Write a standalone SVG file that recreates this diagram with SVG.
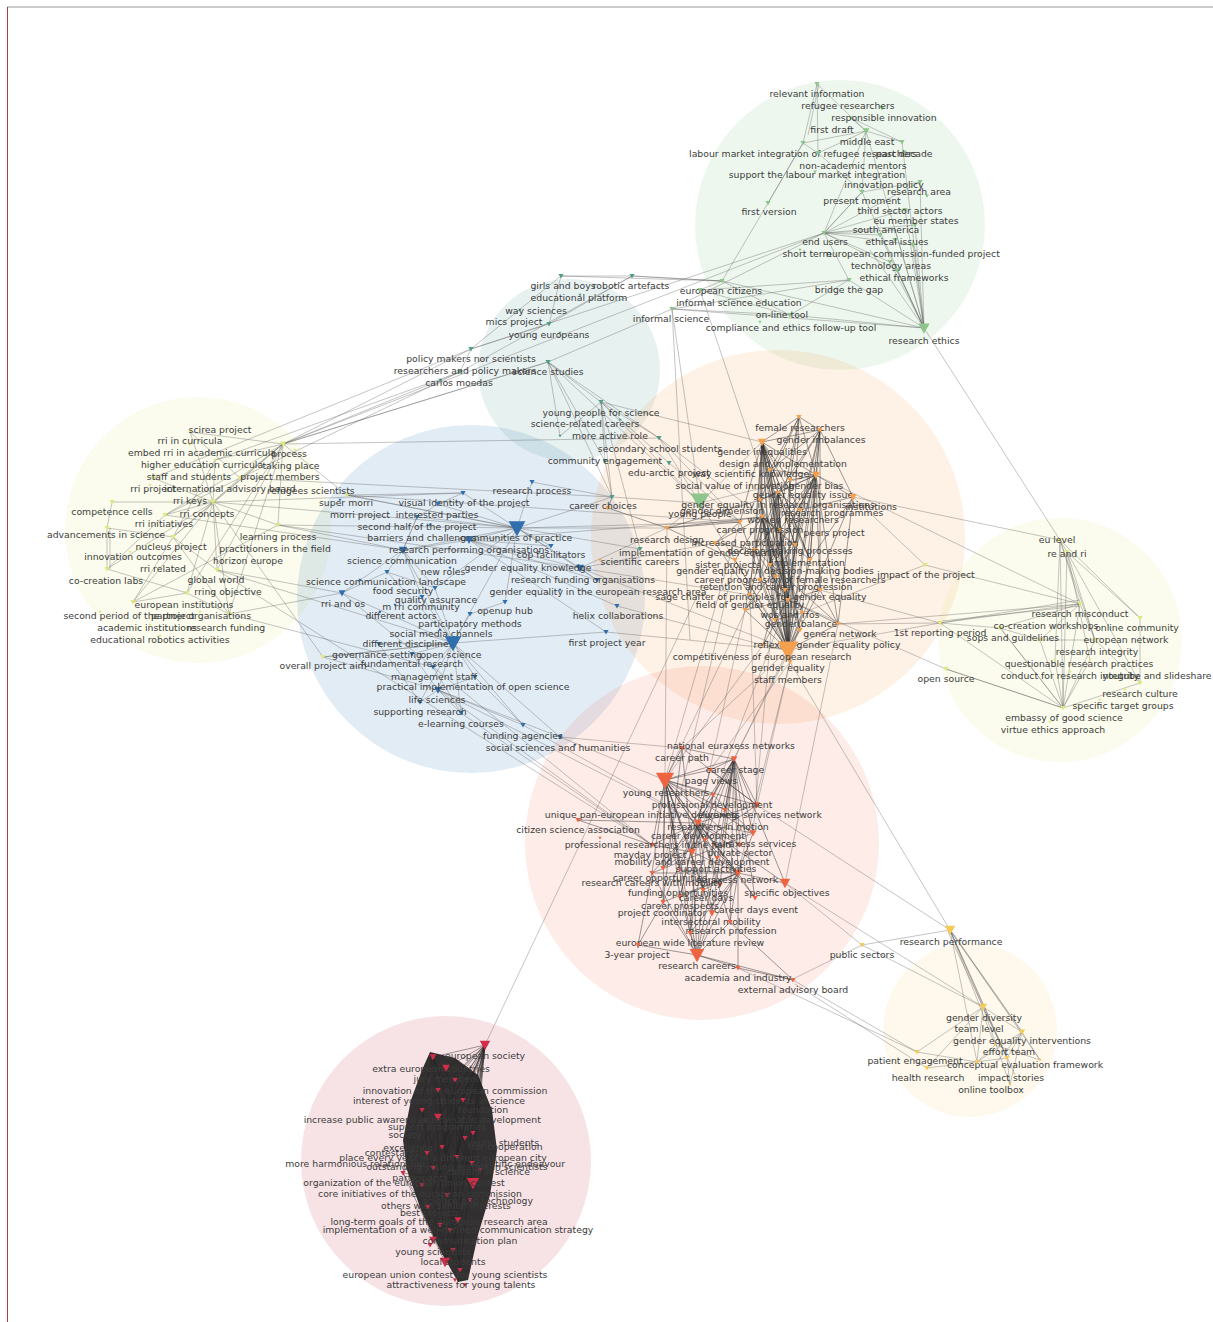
<svg xmlns="http://www.w3.org/2000/svg" xmlns:xlink="http://www.w3.org/1999/xlink" width="1213" height="1322" viewBox="0 0 1213 1322">
<style>
text{font-family:"DejaVu Sans","Liberation Sans",sans-serif;font-size:9.3px;fill:#3c3c3c;text-anchor:middle}
.g{fill:#8cc68c}.tl{fill:#4f9e89}.b{fill:#2f6fae}.o{fill:#f5a04e}.r{fill:#ee6340}.y{fill:#e2e67e}.yb{fill:#f2cb58}.c{fill:#cf2d48}
.e{fill:none;stroke:#555;stroke-opacity:.38;stroke-width:.9}
.ed{fill:none;stroke:#2d2d2d;stroke-opacity:.55;stroke-width:.85}
.ek{fill:none;stroke:#222;stroke-opacity:.55;stroke-width:.8}
</style>
<defs><path id="v" d="M-2.6,-2.1 L2.6,-2.1 L0,2.6 Z"/></defs>
<rect x="0" y="0" width="1213" height="1322" fill="#fff"/>
<line x1="7" y1="7" x2="1213" y2="7" stroke="#9a9a9a" stroke-width="1"/>
<line x1="7.5" y1="7" x2="7.5" y2="1322" stroke="#a34545" stroke-width="1"/>
<g id="communities">
<circle cx="840" cy="225" r="145" fill="#8dc78d" fill-opacity=".15"/>
<circle cx="569" cy="370" r="91" fill="#6aa9a0" fill-opacity=".16"/>
<circle cx="198" cy="530" r="133" fill="#e8ea90" fill-opacity=".16"/>
<circle cx="471" cy="599" r="174" fill="#3f7fbf" fill-opacity=".15"/>
<circle cx="778" cy="537" r="187" fill="#f5a04e" fill-opacity=".15"/>
<circle cx="1060" cy="640" r="122" fill="#e8ea90" fill-opacity=".16"/>
<circle cx="702" cy="843" r="177" fill="#ef6a4a" fill-opacity=".13"/>
<circle cx="970" cy="1030" r="87" fill="#f4d26a" fill-opacity=".13"/>
<circle cx="446" cy="1161" r="145" fill="#c93a4f" fill-opacity=".14"/>
</g>
<g id="connectors">
<path class="e" d="M924,328L895,230M924,328L913,245M924,328L890,262M924,328L897,270M924,328L905,210M924,328L920,182M924,328L862,192M924,328L849,280M924,328L790,315M924,328L722,281M924,328L866,131M924,328L902,142M924,328L1060,540M924,328L672,309M924,328L880,235M924,328L870,250M924,328L915,225M824,233L895,230M824,233L913,245M824,233L905,210M824,233L890,262M824,233L862,192M824,233L920,182M824,233L897,270M824,233L672,309M824,233L880,235M824,233L915,225M866,131L817,84M866,131L803,143M866,131L818,153M866,131L851,118M866,131L902,142M866,131L862,192M866,131L824,233M817,84L803,143M817,84L818,153M819,84L808,135M803,143L818,153M803,143L768,203M818,153L862,192M851,118L902,142M862,192L920,182M862,192L824,233M768,203L722,281M768,203L803,143M722,281L700,290M722,281L790,315M722,281L632,276M722,281L561,276M790,315L849,280M790,315L672,309M790,315L700,290M849,280L700,290M849,280L672,309M849,280L824,233M672,309L700,503M700,290L760,470M672,309L690,640M700,503L659,438M700,503L601,402M700,503L548,362M700,503L740,522M700,503L762,442M700,503L790,650M700,503L816,475M700,503L667,528M700,503L612,497"/>
<path class="e" d="M561,276L632,276M561,276L549,324M632,276L722,281M549,324L471,349M549,324L632,276M471,349L460,372M471,349L283,444M460,372L283,444M460,372L215,460M548,362L601,402M548,362L659,438M548,362L612,497M548,362L283,444M601,402L659,438M601,402L605,461M601,402L612,497M601,402L669,463M601,402L762,442M659,438L740,522M659,438L762,517M548,362L672,309M471,349L824,233M460,372L632,276M548,362L605,461M601,402L560,436M548,362L560,436M605,461L612,497M669,463L740,522M471,349L561,276M460,372L240,478M471,349L153,478M640,549L601,402M640,549L517,528"/>
<path class="e" d="M283,444L240,478M283,444L213,502M283,444L165,515M283,444L173,537M283,444L278,525M283,444L217,570M283,444L187,593M283,444L229,614M283,444L347,495M283,444L548,362M283,444L824,233M283,444L215,460M283,444L190,432M213,502L240,478M213,502L153,478M213,502L112,502M213,502L165,515M213,502L173,537M213,502L107,569M213,502L187,593M213,502L229,614M213,502L217,570M213,502L133,602M213,502L278,525M213,502L463,493M213,502L190,432M213,502L215,460M107,528L107,569M110,528L110,569M173,537L107,528M173,537L133,602M173,537L229,614M187,593L229,614M187,593L133,602M278,525L403,550M278,525L517,528M217,570L342,593M217,570L453,643M229,614L433,667M323,657L213,502M323,657L453,643M323,657L438,690M347,495L463,493M347,495L517,528M133,602L278,525M283,444L659,438M240,478L612,497M347,495L740,522M165,515L107,569M190,432L240,478M240,478L165,515M215,460L173,537M173,537L217,570M107,528L112,502M229,614L342,593M107,569L187,593M278,525L580,568M165,515L403,550M213,502L517,528M217,570L652,845"/>
<path class="e" d="M517,528L463,493M517,528L532,482M517,528L438,504M517,528L417,517M517,528L469,540M517,528L551,546M517,528L403,550M517,528L580,568M517,528L597,580M517,528L505,602M517,528L435,588M517,528L740,522M517,528L667,528M517,528L612,497M517,528L347,495M453,643L379,644M453,643L412,654M453,643L433,667M453,643L475,677M453,643L438,690M453,643L420,702M453,643L461,713M453,643L523,725M453,643L560,737M453,643L470,614M453,643L422,597M453,643L435,588M453,643L387,572M453,643L342,593M453,643L403,550M453,643L517,528M453,643L323,657M453,643L606,632M403,550L387,572M403,550L435,588M403,550L422,597M403,550L469,540M403,550L342,593M403,550L417,517M469,540L580,568M469,540L551,546M469,540L597,580M469,540L762,517M580,568L597,580M580,568L667,528M580,568L715,543M580,568L750,595M580,568L790,650M438,690L461,713M438,690L523,725M438,690L560,737M438,690L420,702M438,690L652,845M438,690L698,823M342,593L387,572M342,593L652,845M560,737L665,780M560,737L682,748M523,725L698,823M461,713L652,845M606,632L469,540M606,632L790,650M617,606L469,540M617,606L763,645M463,493L438,504M438,504L417,517M532,482L612,497M417,517L403,550M475,677L523,725M475,677L438,690M505,602L470,614M387,572L435,588M412,654L438,690M379,644L420,702M433,667L461,713"/>
<path class="ed" d="M788,650L762,442M788,650L799,417M788,650L820,430M788,650L816,475M788,650L853,497M788,650L778,493M788,650L740,522M788,650L762,517M788,650L715,543M788,650L735,560M788,650L776,577M788,650L750,595M788,650L788,600M788,650L802,613M788,650L838,624M788,650L763,645M788,650L790,662M788,650L770,470M788,650L790,480M788,650L760,500M788,650L800,510M788,650L780,530M788,650L755,550M788,650L795,545M788,650L770,565M788,650L810,560M788,650L760,580M788,650L785,590M788,650L800,630M788,650L775,620M788,650L745,610M788,650L820,590M762,442L799,417M762,442L820,430M762,442L816,475M762,442L778,493M762,442L740,522M762,442L762,517M762,442L770,470M762,442L790,480M762,442L760,500M762,442L800,510M762,442L780,530M762,442L755,550M762,442L795,545M762,442L770,565M762,442L810,560M762,442L760,580M762,442L785,590M762,442L800,630M762,442L775,620M762,442L788,600M762,442L750,595M816,475L799,417M816,475L820,430M816,475L853,497M816,475L778,493M816,475L770,470M816,475L790,480M816,475L760,500M816,475L800,510M816,475L780,530M816,475L755,550M816,475L795,545M816,475L770,565M816,475L810,560M816,475L760,580M816,475L785,590M816,475L820,590M816,475L802,613M816,475L838,624M820,430L799,417M820,430L770,470M820,430L790,480M820,430L778,493M820,430L800,510M820,430L795,545M820,430L810,560M820,430L820,590M820,430L853,497M762,517L780,530M762,517L755,550M762,517L795,545M762,517L770,565M762,517L810,560M762,517L760,580M762,517L785,590M762,517L800,630M762,517L775,620M762,517L745,610M762,517L715,543M762,517L735,560M762,517L776,577M788,600L770,470M788,600L790,480M788,600L760,500M788,600L800,510M788,600L780,530M788,600L755,550M788,600L795,545M788,600L770,565M788,600L760,580M788,600L785,590M788,600L775,620M788,600L745,610M788,600L820,590M788,600L838,624M788,600L763,645M788,600L790,662M778,493L790,480M778,493L760,500M778,493L800,510M778,493L780,530M778,493L755,550M778,493L795,545M778,493L770,565M778,493L810,560M778,493L760,580M778,493L785,590M778,493L776,577M778,493L750,595M715,543L740,522M715,543L755,550M667,528L740,522M667,528L760,500M608,508L667,528M608,508L612,497M667,528L762,517M667,528L735,560M799,417L770,470M799,417L790,480M799,417L760,500M853,497L800,510M853,497L810,560M853,497L838,624M802,613L775,620M838,624L820,590M770,470L800,630M790,480L775,620M760,500L802,613M800,510L763,645M780,530L790,662M755,550L838,624M795,545L745,610M770,565L799,417M810,560L762,442"/>
<path class="e" d="M790,662L950,930M853,497L1060,540M838,624L1080,604M802,613L925,565M925,565L1080,604M940,623L1080,604M940,623L788,650M940,623L1000,628M940,623L1063,708M788,600L946,669M946,669L1063,708M853,497L925,565M820,590L940,623M838,624L940,623M816,475L1080,604M788,650L682,748M788,650L734,759M763,645L665,780M790,662L710,770M750,595L757,805M788,600L692,852M802,613L738,873M776,577L753,833M735,560L663,868M838,624L785,883M745,610L698,823M760,580L665,780M790,662L757,805M800,630L734,759M740,522L665,780M667,528L665,780M485,1045L700,590"/>
<path class="ed" d="M665,780L682,748M665,780L734,759M665,780L710,770M665,780L713,795M665,780L757,805M665,780L698,823M665,780L753,833M665,780L692,852M665,780L652,845M665,780L717,858M665,780L652,873M665,780L663,868M665,780L738,873M665,780L703,890M665,780L680,897M665,780L663,902M665,780L712,913M665,780L690,933M665,780L697,955M665,780L725,810M665,780L740,845M665,780L705,840M665,780L680,870M734,759L682,748M734,759L710,770M734,759L713,795M734,759L757,805M734,759L698,823M734,759L753,833M734,759L692,852M734,759L717,858M734,759L663,868M734,759L738,873M734,759L785,883M734,759L703,890M734,759L755,898M734,759L712,913M734,759L730,922M734,759L725,810M734,759L740,845M734,759L705,840M734,759L720,885M698,823L713,795M698,823L757,805M698,823L753,833M698,823L692,852M698,823L652,845M698,823L717,858M698,823L652,873M698,823L663,868M698,823L738,873M698,823L785,883M698,823L703,890M698,823L680,897M698,823L663,902M698,823L755,898M698,823L712,913M698,823L730,922M698,823L690,933M698,823L740,845M698,823L680,870M698,823L720,885M738,873L753,833M738,873L692,852M738,873L717,858M738,873L652,873M738,873L785,883M738,873L703,890M738,873L680,897M738,873L663,902M738,873L755,898M738,873L712,913M738,873L730,922M738,873L690,933M738,873L697,955M738,873L738,968M738,873L705,840M738,873L680,870M697,955L663,902M697,955L712,913M697,955L730,922M697,955L690,933M697,955L638,945M697,955L738,968M697,955L793,980M697,955L703,890M697,955L680,897M697,955L692,852M697,955L717,858M697,955L652,873M578,820L652,845M578,820L698,823M682,748L757,805M682,748L692,852M793,980L738,968M793,980L730,922M638,945L652,873M638,945L663,902M652,845L692,852M710,770L757,805M713,795L753,833M682,748L663,902M710,770L680,897M713,795L690,933M757,805L663,868M753,833L652,873"/>
<path class="e" d="M793,980L917,1052M795,984L927,1068M795,978L862,945M862,945L950,930M757,805L950,930M785,883L862,945M738,968L917,1052M785,883L983,1007M862,945L983,1007"/>
<path class="e" d="M950,930L983,1007M950,930L1022,1032M950,930L1007,1058M950,930L977,1062M950,930L1040,1060M950,930L995,1045M950,930L1015,1075M983,1007L1022,1032M983,1007L1007,1058M983,1007L977,1062M983,1007L917,1052M983,1007L927,1068M983,1007L1010,1085M1022,1032L1007,1058M1022,1032L977,1062M1022,1032L1010,1085M1022,1032L990,1070M1022,1032L1040,1060M917,1052L977,1062M927,1068L1007,1058M1007,1058L1010,1085M995,1045L1040,1060M995,1045L977,1062M952,932L1022,1032M948,932L1007,1058"/>
<path class="e" d="M1060,540L1067,552M1060,540L1080,604M1060,540L1095,640M1060,540L1140,618M1060,540L1063,708M1060,540L1055,660M1067,552L1095,640M1067,552L1140,618M1067,552L1063,708M1067,552L1140,683M1067,552L1090,660M1080,604L1000,628M1080,604L1040,640M1080,604L1063,708M1080,604L1095,640M1063,708L1000,628M1063,708L1040,640M1063,708L1095,640M1063,708L946,669M1063,708L1140,683M1140,683L1140,618M1140,683L1095,640M940,623L1080,600M942,621L1080,606M1040,640L1095,640M1055,660L1063,708M1090,660L1063,708M1000,628L1040,640M1002,630L1063,708"/>
<polygon points="430,1052 455,1058 478,1075 492,1110 497,1150 490,1195 478,1235 468,1280 458,1282 440,1250 421,1210 407,1170 403,1140 411,1100 422,1070" fill="#161616" fill-opacity=".88"/>
<path class="ek" d="M485,1045L433,1057M485,1045L446,1068M485,1045L455,1080M485,1045L438,1090M485,1045L463,1100M485,1045L422,1110M485,1045L438,1117M485,1045L473,1133M485,1045L465,1138M485,1045L442,1147M485,1045L427,1153M485,1045L457,1157M485,1045L433,1168M485,1045L472,1163M485,1045L403,1173M485,1045L422,1185M485,1045L473,1183M485,1045L447,1195M485,1045L428,1207M485,1045L458,1220M485,1045L433,1240M485,1045L453,1250M485,1045L445,1262M485,1045L460,1270M433,1057L460,1270M433,1057L445,1262M446,1068L453,1250M455,1080L433,1240M438,1090L458,1220M463,1100L428,1207M422,1110L447,1195M438,1117L473,1183M403,1173L460,1270M403,1173L433,1057M403,1173L473,1183M403,1173L445,1262M473,1183L433,1057M473,1183L446,1068M473,1183L445,1262M433,1057L473,1133M433,1057L472,1163M445,1262L463,1100M460,1270L438,1090M460,1270L455,1080M445,1262L422,1110"/>
</g>
<g id="n-g1" class="g"><use href="#v" x="817" y="84"/><text x="817" y="97">relevant information</text></g>
<g id="n-g2" class="g"><use href="#v" x="882" y="108"/><text x="848" y="109">refugee researchers</text></g>
<g id="n-g3" class="g"><use href="#v" transform="translate(851,118) scale(.8)"/><text x="884" y="121">responsible innovation</text></g>
<g id="n-g4" class="g"><use href="#v" transform="translate(866,131) scale(1.3)"/><text x="832" y="133">first draft</text></g>
<g id="n-g5" class="g"><use href="#v" x="902" y="142"/><text x="867" y="145">middle east</text></g>
<g id="n-g6" class="g"><use href="#v" x="803" y="143"/><text x="803" y="157">labour market integration of refugee researchers</text></g>
<g id="n-g7" class="g"><use href="#v" transform="translate(905,152) scale(.7)"/><text x="904" y="157">past decade</text></g>
<g id="n-g8" class="g"><use href="#v" x="818" y="153"/><text x="853" y="169">non-academic mentors</text></g>
<g id="n-g9" class="g"><use href="#v" transform="translate(815,172) scale(.7)"/><text x="817" y="178">support the labour market integration</text></g>
<g id="n-g10" class="g"><use href="#v" x="920" y="182"/><text x="884" y="188">innovation policy</text></g>
<g id="n-g11" class="g"><use href="#v" transform="translate(927,196) scale(.7)"/><text x="919" y="195">research area</text></g>
<g id="n-g12" class="g"><use href="#v" x="862" y="192"/><text x="862" y="204">present moment</text></g>
<g id="n-g13" class="g"><use href="#v" x="768" y="203"/><text x="769" y="215">first version</text></g>
<g id="n-g14" class="g"><use href="#v" x="905" y="210"/><text x="900" y="214">third sector actors</text></g>
<g id="n-g15" class="g"><use href="#v" x="915" y="225"/><text x="916" y="224">eu member states</text></g>
<g id="n-g16" class="g"><use href="#v" x="880" y="235"/><text x="886" y="233">south america</text></g>
<g id="n-g17" class="g"><use href="#v" x="824" y="233"/><text x="825" y="245">end users</text></g>
<g id="n-g18" class="g"><use href="#v" x="895" y="240"/><text x="897" y="245">ethical issues</text></g>
<g id="n-g19" class="g"><use href="#v" transform="translate(800,250) scale(.6)"/><text x="807" y="257">short term</text></g>
<g id="n-g20" class="g"><use href="#v" x="913" y="245"/><text x="913" y="257">european commission-funded project</text></g>
<g id="n-g21" class="g"><use href="#v" x="890" y="262"/><text x="891" y="269">technology areas</text></g>
<g id="n-g22" class="g"><use href="#v" x="897" y="270"/><text x="904" y="281">ethical frameworks</text></g>
<g id="n-g23" class="g"><use href="#v" x="849" y="280"/><text x="849" y="293">bridge the gap</text></g>
<g id="n-g24" class="g"><use href="#v" x="722" y="281"/><text x="721" y="294">european citizens</text></g>
<g id="n-g25" class="g"><use href="#v" x="700" y="290"/><text x="739" y="306">informal science education</text></g>
<g id="n-g26" class="g"><use href="#v" x="790" y="315"/><text x="782" y="318">on-line tool</text></g>
<g id="n-g27" class="g"><use href="#v" x="672" y="309"/><text x="671" y="322">informal science</text></g>
<g id="n-g28" class="g"><use href="#v" transform="translate(760,322) scale(.6)"/><text x="791" y="331">compliance and ethics follow-up tool</text></g>
<g id="n-g29" class="g"><use href="#v" transform="translate(924,328) scale(2.2)"/><text x="924" y="344">research ethics</text></g>
<g id="n-g30" class="g"><use href="#v" transform="translate(700,501) scale(3.6)"/></g>
<g id="n-t1" class="tl"><use href="#v" x="561" y="276"/><text x="563" y="289">girls and boys</text></g>
<g id="n-t2" class="tl"><use href="#v" x="632" y="276"/><text x="631" y="289">robotic artefacts</text></g>
<g id="n-t3" class="tl"><use href="#v" transform="translate(580,295) scale(.6)"/><text x="579" y="301">educational platform</text></g>
<g id="n-t4" class="tl"><use href="#v" transform="translate(520,310) scale(.6)"/><text x="536" y="314">way sciences</text></g>
<g id="n-t5" class="tl"><use href="#v" x="549" y="324"/><text x="514" y="325">mics project</text></g>
<g id="n-t6" class="tl"><use href="#v" transform="translate(560,333) scale(.6)"/><text x="549" y="338">young europeans</text></g>
<g id="n-t7" class="tl"><use href="#v" x="471" y="349"/><text x="471" y="362">policy makers nor scientists</text></g>
<g id="n-t8" class="tl"><use href="#v" x="460" y="372"/><text x="465" y="374">researchers and policy makers</text></g>
<g id="n-t9" class="tl"><use href="#v" x="548" y="362"/><text x="548" y="375">science studies</text></g>
<g id="n-t10" class="tl"><use href="#v" transform="translate(440,380) scale(.6)"/><text x="459" y="386">carlos moedas</text></g>
<g id="n-t11" class="tl"><use href="#v" x="601" y="402"/><text x="601" y="416">young people for science</text></g>
<g id="n-t12" class="tl"><use href="#v" transform="translate(620,420) scale(.6)"/><text x="585" y="427">science-related careers</text></g>
<g id="n-t13" class="tl"><use href="#v" x="659" y="438"/><text x="610" y="439">more active role</text></g>
<g id="n-t14" class="tl"><use href="#v" transform="translate(560,436) scale(.6)"/><text x="660" y="452">secondary school students</text></g>
<g id="n-t15" class="tl"><use href="#v" x="605" y="461"/><text x="605" y="464">community engagement</text></g>
<g id="n-t16" class="tl"><use href="#v" x="669" y="463"/><text x="669" y="476">edu-arctic project</text></g>
<g id="n-t17" class="tl"><use href="#v" x="612" y="497"/><use href="#v" x="640" y="549"/></g>
<g id="n-y1" class="y"><use href="#v" transform="translate(190,432) scale(.6)"/><text x="220" y="433">scirea project</text></g>
<g id="n-y2" class="y"><use href="#v" transform="translate(190,445) scale(.6)"/><text x="190" y="444">rri in curricula</text></g>
<g id="n-y3" class="y"><use href="#v" transform="translate(283,444) scale(1.2)"/><text x="202" y="456">embed rri in academic curricula</text></g>
<g id="n-y4" class="y"><use href="#v" transform="translate(295,450) scale(.6)"/><text x="289" y="457">process</text></g>
<g id="n-y5" class="y"><use href="#v" transform="translate(215,460) scale(.6)"/><text x="202" y="468">higher education curricula</text></g>
<g id="n-y6" class="y"><use href="#v" transform="translate(300,468) scale(.6)"/><text x="291" y="469">taking place</text></g>
<g id="n-y7" class="y"><use href="#v" x="153" y="478"/><text x="189" y="480">staff and students</text></g>
<g id="n-y8" class="y"><use href="#v" x="240" y="478"/><text x="280" y="480">project members</text></g>
<g id="n-y9" class="y"><use href="#v" transform="translate(150,485) scale(.6)"/><text x="153" y="492">rri project</text></g>
<g id="n-y10" class="y"><use href="#v" transform="translate(213,502) scale(1.2)"/><text x="230" y="492">international advisory board</text></g>
<g id="n-y11" class="y"><use href="#v" x="347" y="495"/><text x="311" y="494">refugees scientists</text></g>
<g id="n-y12" class="y"><use href="#v" transform="translate(200,500) scale(.6)"/><text x="190" y="504">rri keys</text></g>
<g id="n-y13" class="y"><use href="#v" x="112" y="502"/><text x="112" y="515">competence cells</text></g>
<g id="n-y14" class="y"><use href="#v" x="165" y="515"/><text x="207" y="517">rri concepts</text></g>
<g id="n-y15" class="y"><use href="#v" x="107" y="528"/><text x="164" y="527">rri initiatives</text></g>
<g id="n-y16" class="y"><use href="#v" x="173" y="537"/><text x="106" y="538">advancements in science</text></g>
<g id="n-y17" class="y"><use href="#v" x="278" y="525"/><text x="278" y="540">learning process</text></g>
<g id="n-y18" class="y"><use href="#v" transform="translate(150,545) scale(.6)"/><text x="171" y="550">nucleus project</text></g>
<g id="n-y19" class="y"><use href="#v" transform="translate(300,548) scale(.6)"/><text x="275" y="552">practitioners in the field</text></g>
<g id="n-y20" class="y"><use href="#v" transform="translate(130,552) scale(.6)"/><text x="133" y="560">innovation outcomes</text></g>
<g id="n-y21" class="y"><use href="#v" x="217" y="570"/><text x="248" y="564">horizon europe</text></g>
<g id="n-y22" class="y"><use href="#v" transform="translate(160,568) scale(.6)"/><text x="163" y="572">rri related</text></g>
<g id="n-y23" class="y"><use href="#v" x="107" y="569"/><text x="106" y="584">co-creation labs</text></g>
<g id="n-y24" class="y"><use href="#v" x="187" y="593"/><text x="216" y="583">global world</text></g>
<g id="n-y25" class="y"><use href="#v" x="229" y="614"/><text x="228" y="595">rring objective</text></g>
<g id="n-y26" class="y"><use href="#v" x="133" y="602"/><text x="184" y="608">european institutions</text></g>
<g id="n-y27" class="y"><use href="#v" transform="translate(100,612) scale(.6)"/><text x="129" y="619">second period of the project</text></g>
<g id="n-y28" class="y"><use href="#v" transform="translate(200,612) scale(.6)"/><text x="201" y="619">partner organisations</text></g>
<g id="n-y29" class="y"><use href="#v" transform="translate(150,625) scale(.6)"/><text x="147" y="631">academic institutions</text></g>
<g id="n-y30" class="y"><use href="#v" transform="translate(240,625) scale(.6)"/><text x="226" y="631">research funding</text></g>
<g id="n-y31" class="y"><use href="#v" transform="translate(160,636) scale(.6)"/><text x="160" y="643">educational robotics activities</text></g>
<g id="n-y32" class="y"><use href="#v" x="323" y="657"/><text x="323" y="669">overall project aim</text></g>
<g id="n-b1" class="b"><use href="#v" x="532" y="482"/><text x="532" y="494">research process</text></g>
<g id="n-b2" class="b"><use href="#v" transform="translate(340,500) scale(.6)"/><text x="346" y="506">super morri</text></g>
<g id="n-b3" class="b"><use href="#v" x="463" y="493"/><text x="464" y="506">visual identity of the project</text></g>
<g id="n-b4" class="b"><use href="#v" x="438" y="504"/><text x="360" y="518">morri project</text></g>
<g id="n-b5" class="b"><use href="#v" x="417" y="517"/><text x="437" y="518">interested parties</text></g>
<g id="n-b6" class="b"><use href="#v" transform="translate(430,525) scale(.6)"/><text x="417" y="530">second half of the project</text></g>
<g id="n-b7" class="b"><use href="#v" transform="translate(403,550) scale(1.6)"/><text x="422" y="541">barriers and challenges</text></g>
<g id="n-b8" class="b"><use href="#v" transform="translate(517,528) scale(3.2)"/><text x="516" y="541">communities of practice</text></g>
<g id="n-b9" class="b"><use href="#v" transform="translate(469,540) scale(1.5)"/><text x="469" y="553">research performing organisations</text></g>
<g id="n-b10" class="b"><use href="#v" x="551" y="546"/><text x="551" y="558">cop facilitators</text></g>
<g id="n-b11" class="b"><use href="#v" x="387" y="572"/><text x="402" y="564">science communication</text></g>
<g id="n-b12" class="b"><use href="#v" transform="translate(450,568) scale(.6)"/><text x="443" y="575">new roles</text></g>
<g id="n-b13" class="b"><use href="#v" transform="translate(580,568) scale(1.6)"/><text x="528" y="571">gender equality knowledge</text></g>
<g id="n-b14" class="b"><use href="#v" transform="translate(360,580) scale(.6)"/><text x="386" y="585">science communication landscape</text></g>
<g id="n-b15" class="b"><use href="#v" x="597" y="580"/><text x="583" y="583">research funding organisations</text></g>
<g id="n-b16" class="b"><use href="#v" x="435" y="588"/><text x="403" y="594">food security</text></g>
<g id="n-b17" class="b"><use href="#v" transform="translate(560,590) scale(.6)"/><text x="598" y="595">gender equality in the european research area</text></g>
<g id="n-b18" class="b"><use href="#v" x="422" y="597"/><text x="436" y="603">quality assurance</text></g>
<g id="n-b19" class="b"><use href="#v" transform="translate(342,593) scale(1.3)"/><text x="343" y="607">rri and os</text></g>
<g id="n-b20" class="b"><use href="#v" transform="translate(395,605) scale(.6)"/><text x="421" y="610">m rri community</text></g>
<g id="n-b21" class="b"><use href="#v" x="505" y="602"/><text x="505" y="614">openup hub</text></g>
<g id="n-b22" class="b"><use href="#v" x="617" y="606"/><text x="618" y="619">helix collaborations</text></g>
<g id="n-b23" class="b"><use href="#v" transform="translate(380,612) scale(.6)"/><text x="401" y="619">different actors</text></g>
<g id="n-b24" class="b"><use href="#v" x="470" y="614"/><text x="470" y="627">participatory methods</text></g>
<g id="n-b25" class="b"><use href="#v" transform="translate(440,630) scale(.6)"/><text x="441" y="637">social media channels</text></g>
<g id="n-b26" class="b"><use href="#v" x="379" y="644"/><text x="408" y="647">different disciplines</text></g>
<g id="n-b27" class="b"><use href="#v" x="606" y="632"/><text x="607" y="646">first project year</text></g>
<g id="n-b28" class="b"><use href="#v" x="412" y="654"/><text x="377" y="658">governance setting</text></g>
<g id="n-b29" class="b"><use href="#v" transform="translate(453,643) scale(3.2)"/><text x="451" y="658">open science</text></g>
<g id="n-b30" class="b"><use href="#v" x="433" y="667"/><text x="412" y="667">fundamental research</text></g>
<g id="n-b31" class="b"><use href="#v" x="475" y="677"/><text x="434" y="680">management staff</text></g>
<g id="n-b32" class="b"><use href="#v" transform="translate(438,690) scale(1.4)"/><text x="473" y="690">practical implementation of open science</text></g>
<g id="n-b33" class="b"><use href="#v" x="420" y="702"/><text x="437" y="703">life sciences</text></g>
<g id="n-b34" class="b"><use href="#v" x="461" y="713"/><text x="420" y="715">supporting research</text></g>
<g id="n-b35" class="b"><use href="#v" x="523" y="725"/><text x="461" y="727">e-learning courses</text></g>
<g id="n-b36" class="b"><use href="#v" x="560" y="737"/><text x="523" y="739">funding agencies</text></g>
<g id="n-b37" class="b"><use href="#v" transform="translate(575,745) scale(.6)"/><text x="558" y="751">social sciences and humanities</text></g>
<g id="n-o1" class="o"><use href="#v" x="799" y="417"/><text x="800" y="431">female researchers</text></g>
<g id="n-o2" class="o"><use href="#v" x="820" y="430"/><text x="821" y="443">gender imbalances</text></g>
<g id="n-o3" class="o"><use href="#v" transform="translate(762,442) scale(1.6)"/><text x="762" y="455">gender inequalities</text></g>
<g id="n-o4" class="o"><use href="#v" x="770" y="470"/><text x="783" y="467">design and implementation</text></g>
<g id="n-o5" class="o"><use href="#v" x="790" y="480"/><text x="751" y="477">way scientific knowledge</text></g>
<g id="n-o6" class="o"><use href="#v" x="760" y="500"/><text x="735" y="489">social value of innovation</text></g>
<g id="n-o7" class="o"><use href="#v" transform="translate(816,475) scale(1.6)"/><text x="816" y="489">gender bias</text></g>
<g id="n-o8" class="o"><use href="#v" x="778" y="493"/><text x="803" y="498">gender equality issue</text></g>
<g id="n-o9" class="o"><use href="#v" x="800" y="510"/><text x="778" y="508">gender equality in research organisations</text></g>
<g id="n-o10" class="o"><use href="#v" transform="translate(853,497) scale(1.4)"/><text x="871" y="510">institutions</text></g>
<g id="n-o11" class="o"><use href="#v" x="740" y="522"/><text x="722" y="514">gender dimension</text></g>
<g id="n-o12" class="o"><use href="#v" transform="translate(690,515) scale(.6)"/><text x="700" y="517">young people</text></g>
<g id="n-o13" class="o"><use href="#v" transform="translate(830,505) scale(.6)"/><text x="832" y="516">research programmes</text></g>
<g id="n-o14" class="o"><use href="#v" x="762" y="517"/><text x="793" y="523">women researchers</text></g>
<g id="n-o15" class="o"><use href="#v" x="780" y="530"/><text x="760" y="533">career progression</text></g>
<g id="n-o16" class="o"><use href="#v" transform="translate(820,535) scale(.6)"/><text x="834" y="536">peers project</text></g>
<g id="n-o17" class="o"><use href="#v" x="755" y="550"/><text x="745" y="546">increased participation</text></g>
<g id="n-o18" class="o"><use href="#v" x="667" y="528"/><text x="667" y="543">research design</text></g>
<g id="n-o19" class="o"><use href="#v" x="608" y="508"/><text x="603" y="509">career choices</text></g>
<g id="n-o20" class="o"><use href="#v" x="715" y="543"/><text x="700" y="556">implementation of gender equality</text></g>
<g id="n-o21" class="o"><use href="#v" x="795" y="545"/><text x="790" y="554">decision-making processes</text></g>
<g id="n-o22" class="o"><use href="#v" transform="translate(600,560) scale(.6)"/><text x="640" y="565">scientific careers</text></g>
<g id="n-o23" class="o"><use href="#v" x="735" y="560"/><text x="728" y="568">sister projects</text></g>
<g id="n-o24" class="o"><use href="#v" x="810" y="560"/><text x="808" y="566">implementation</text></g>
<g id="n-o25" class="o"><use href="#v" x="770" y="565"/><text x="775" y="574">gender equality in decision-making bodies</text></g>
<g id="n-o26" class="y"><use href="#v" x="925" y="565"/><text x="926" y="578">impact of the project</text></g>
<g id="n-o27" class="o"><use href="#v" x="776" y="577"/><text x="790" y="583">career progression of female researchers</text></g>
<g id="n-o28" class="o"><use href="#v" x="760" y="580"/><text x="776" y="590">retention and career progression</text></g>
<g id="n-o29" class="o"><use href="#v" x="750" y="595"/><text x="761" y="600">sage charter of principles for gender equality</text></g>
<g id="n-o30" class="o"><use href="#v" x="745" y="610"/><text x="750" y="608">field of gender equality</text></g>
<g id="n-o31" class="o"><use href="#v" x="788" y="600"/><text x="790" y="618">wos and rfos</text></g>
<g id="n-o32" class="o"><use href="#v" x="802" y="613"/><text x="801" y="627">gender balance</text></g>
<g id="n-o33" class="o"><use href="#v" x="838" y="624"/><text x="840" y="637">genera network</text></g>
<g id="n-o34" class="y"><use href="#v" x="940" y="623"/><text x="940" y="636">1st reporting period</text></g>
<g id="n-o35" class="o"><use href="#v" x="763" y="645"/><text x="827" y="648">reflexive gender equality policy</text></g>
<g id="n-o36" class="o"><use href="#v" transform="translate(788,650) scale(4)"/><text x="762" y="660">competitiveness of european research</text></g>
<g id="n-o37" class="o"><use href="#v" x="790" y="662"/><text x="788" y="671">gender equality</text></g>
<g id="n-o38" class="o"><use href="#v" x="775" y="620"/><use href="#v" x="820" y="590"/><use href="#v" x="785" y="590"/><use href="#v" x="800" y="630"/><text x="788" y="683">staff members</text></g>
<g id="n-ry1" class="y"><use href="#v" x="1060" y="540"/><text x="1057" y="543">eu level</text></g>
<g id="n-ry2" class="y"><use href="#v" x="1067" y="552"/><text x="1067" y="557">re and ri</text></g>
<g id="n-ry3" class="y"><use href="#v" x="1080" y="604"/><text x="1080" y="617">research misconduct</text></g>
<g id="n-ry4" class="y"><use href="#v" x="1000" y="628"/><text x="1046" y="629">co-creation workshops</text></g>
<g id="n-ry5" class="y"><use href="#v" x="1140" y="618"/><text x="1137" y="631">online community</text></g>
<g id="n-ry6" class="y"><use href="#v" x="1040" y="640"/><text x="1013" y="641">sops and guidelines</text></g>
<g id="n-ry7" class="y"><use href="#v" x="1095" y="640"/><text x="1126" y="643">european network</text></g>
<g id="n-ry8" class="y"><use href="#v" transform="translate(1090,660) scale(.6)"/><text x="1097" y="655">research integrity</text></g>
<g id="n-ry9" class="y"><use href="#v" transform="translate(1055,660) scale(.6)"/><text x="1079" y="667">questionable research practices</text></g>
<g id="n-ry10" class="y"><use href="#v" transform="translate(1070,672) scale(.6)"/><text x="1070" y="679">conduct for research integrity</text></g>
<g id="n-ry11" class="y"><use href="#v" x="1140" y="683"/><text x="1157" y="679">youtube and slideshare</text></g>
<g id="n-ry12" class="y"><use href="#v" x="946" y="669"/><text x="946" y="682">open source</text></g>
<g id="n-ry13" class="y"><use href="#v" transform="translate(1125,690) scale(.6)"/><text x="1140" y="697">research culture</text></g>
<g id="n-ry14" class="y"><use href="#v" transform="translate(1100,700) scale(.6)"/><text x="1123" y="709">specific target groups</text></g>
<g id="n-ry15" class="y"><use href="#v" x="1063" y="708"/><text x="1064" y="721">embassy of good science</text></g>
<g id="n-ry16" class="y"><use href="#v" transform="translate(1050,722) scale(.6)"/><text x="1053" y="733">virtue ethics approach</text></g>
<g id="n-r1" class="r"><use href="#v" x="682" y="748"/><text x="731" y="749">national euraxess networks</text></g>
<g id="n-r2" class="r"><use href="#v" transform="translate(734,759) scale(1.3)"/><text x="682" y="761">career path</text></g>
<g id="n-r3" class="r"><use href="#v" x="710" y="770"/><text x="735" y="773">career stage</text></g>
<g id="n-r4" class="r"><use href="#v" x="713" y="795"/><text x="711" y="784">page views</text></g>
<g id="n-r5" class="r"><use href="#v" transform="translate(665,780) scale(3.5)"/><text x="666" y="796">young researchers</text></g>
<g id="n-r6" class="r"><use href="#v" transform="translate(757,805) scale(1.3)"/><text x="712" y="808">professional development</text></g>
<g id="n-r7" class="r"><use href="#v" x="578" y="820"/><text x="641" y="818">unique pan-european initiative delivering</text></g>
<g id="n-r8" class="r"><use href="#v" transform="translate(753,833) scale(1.3)"/><text x="760" y="818">euraxess services network</text></g>
<g id="n-r9" class="r"><use href="#v" transform="translate(600,838) scale(.6)"/><text x="578" y="833">citizen science association</text></g>
<g id="n-r10" class="r"><use href="#v" transform="translate(698,823) scale(1.5)"/><text x="718" y="830">researchers in motion</text></g>
<g id="n-r11" class="r"><use href="#v" x="725" y="810"/><text x="698" y="839">career development</text></g>
<g id="n-r12" class="r"><use href="#v" x="652" y="845"/><text x="648" y="848">professional researchers in the field</text></g>
<g id="n-r13" class="r"><use href="#v" x="740" y="845"/><text x="755" y="847">euraxess services</text></g>
<g id="n-r14" class="r"><use href="#v" transform="translate(692,852) scale(1.5)"/><text x="650" y="858">mayday project</text></g>
<g id="n-r15" class="r"><use href="#v" x="717" y="858"/><text x="740" y="856">private sector</text></g>
<g id="n-r16" class="r"><use href="#v" x="705" y="840"/><text x="692" y="865">mobility and career development</text></g>
<g id="n-r17" class="r"><use href="#v" transform="translate(738,873) scale(1.5)"/><text x="716" y="872">support activities</text></g>
<g id="n-r18" class="r"><use href="#v" x="663" y="868"/><text x="660" y="881">career opportunities</text></g>
<g id="n-r19" class="r"><use href="#v" x="720" y="885"/><text x="737" y="883">euraxess network</text></g>
<g id="n-r20" class="r"><use href="#v" x="652" y="873"/><text x="652" y="886">research careers with mobility</text></g>
<g id="n-r21" class="r"><use href="#v" transform="translate(785,883) scale(2)"/><text x="787" y="896">specific objectives</text></g>
<g id="n-r22" class="r"><use href="#v" x="703" y="890"/><text x="678" y="896">funding opportunities</text></g>
<g id="n-r23" class="r"><use href="#v" x="680" y="897"/><text x="706" y="901">career days</text></g>
<g id="n-r24" class="r"><use href="#v" x="663" y="902"/><text x="680" y="909">career prospects</text></g>
<g id="n-r25" class="r"><use href="#v" transform="translate(680,870) scale(.6)"/><text x="662" y="916">project coordinator</text></g>
<g id="n-r26" class="r"><use href="#v" x="755" y="898"/><text x="756" y="913">career days event</text></g>
<g id="n-r27" class="r"><use href="#v" transform="translate(712,913) scale(1.3)"/><text x="711" y="925">intersectoral mobility</text></g>
<g id="n-r28" class="r"><use href="#v" x="730" y="922"/><text x="731" y="934">research profession</text></g>
<g id="n-r29" class="r"><use href="#v" x="690" y="933"/><text x="690" y="946">european wide literature review</text></g>
<g id="n-r30" class="r"><use href="#v" x="638" y="945"/><text x="637" y="958">3-year project</text></g>
<g id="n-r31" class="r"><use href="#v" transform="translate(697,955) scale(2.8)"/><text x="697" y="969">research careers</text></g>
<g id="n-r32" class="r"><use href="#v" x="738" y="968"/><text x="738" y="981">academia and industry</text></g>
<g id="n-r33" class="r"><use href="#v" x="793" y="980"/><text x="793" y="993">external advisory board</text></g>
<g id="n-w1" class="yb"><use href="#v" x="862" y="945"/><text x="862" y="958">public sectors</text></g>
<g id="n-w2" class="yb"><use href="#v" transform="translate(950,930) scale(2)"/><text x="951" y="945">research performance</text></g>
<g id="n-w3" class="yb"><use href="#v" transform="translate(983,1007) scale(1.5)"/><text x="984" y="1021">gender diversity</text></g>
<g id="n-w4" class="yb"><use href="#v" transform="translate(995,1045) scale(.6)"/><text x="979" y="1032">team level</text></g>
<g id="n-w5" class="yb"><use href="#v" transform="translate(1022,1032) scale(1.2)"/><text x="1022" y="1044">gender equality interventions</text></g>
<g id="n-w6" class="yb"><use href="#v" x="1007" y="1058"/><text x="1009" y="1055">effort team</text></g>
<g id="n-w7" class="yb"><use href="#v" x="917" y="1052"/><text x="915" y="1064">patient engagement</text></g>
<g id="n-w8" class="yb"><use href="#v" transform="translate(1040,1060) scale(.6)"/><text x="1025" y="1068">conceptual evaluation framework</text></g>
<g id="n-w9" class="yb"><use href="#v" x="927" y="1068"/><text x="928" y="1081">health research</text></g>
<g id="n-w10" class="yb"><use href="#v" x="977" y="1062"/><text x="1011" y="1081">impact stories</text></g>
<g id="n-w11" class="yb"><use href="#v" transform="translate(1010,1085) scale(.6)"/><text x="991" y="1093">online toolbox</text></g>
<g id="n-c1" class="c"><use href="#v" transform="translate(485,1045) scale(2)"/><text x="485" y="1059">european society</text></g>
<g id="n-c2" class="c"><use href="#v" transform="translate(433,1057) scale(1.3)"/><text x="431" y="1072">extra european countries</text></g>
<g id="n-c3" class="c"><use href="#v" transform="translate(446,1068) scale(1.5)"/><text x="446" y="1082">jury members</text></g>
<g id="n-c4" class="c"><use href="#v" x="455" y="1080"/><text x="455" y="1094">innovation of the european commission</text></g>
<g id="n-c5" class="c"><use href="#v" x="438" y="1090"/><text x="439" y="1104">interest of young students in science</text></g>
<g id="n-c6" class="c"><use href="#v" x="463" y="1100"/><text x="483" y="1113">foundation</text></g>
<g id="n-c7" class="c"><use href="#v" x="422" y="1110"/><text x="365" y="1123">increase public awareness</text></g>
<g id="n-c8" class="c"><use href="#v" transform="translate(438,1117) scale(1.5)"/><text x="482" y="1123">sustainable development</text></g>
<g id="n-c9" class="c"><use href="#v" x="473" y="1133"/><text x="437" y="1130">support programmes</text></g>
<g id="n-c10" class="c"><use href="#v" x="465" y="1138"/><text x="405" y="1138">society</text></g>
<g id="n-c11" class="c"><use href="#v" x="442" y="1147"/><text x="503" y="1146">young students</text></g>
<g id="n-c12" class="c"><use href="#v" x="427" y="1153"/><text x="408" y="1151">excellence</text></g>
<g id="n-c13" class="c"><use href="#v" x="457" y="1157"/><text x="507" y="1150">for cooperation</text></g>
<g id="n-c14" class="c"><use href="#v" x="433" y="1168"/><text x="392" y="1156">contestants</text></g>
<g id="n-c15" class="c"><use href="#v" x="472" y="1163"/><text x="443" y="1161">place every year in a different european city</text></g>
<g id="n-c16" class="c"><use href="#v" x="403" y="1173"/><text x="355" y="1167">more harmonious relationship</text></g>
<g id="n-c17" class="c"><use href="#v" transform="translate(480,1170) scale(.8)"/><text x="518" y="1167">scientific endeavour</text></g>
<g id="n-c18" class="c"><use href="#v" x="422" y="1185"/><text x="457" y="1170">outstanding young european scientists</text></g>
<g id="n-c19" class="c"><use href="#v" transform="translate(473,1183) scale(2.4)"/><text x="488" y="1175">careers in science</text></g>
<g id="n-c20" class="c"><use href="#v" x="447" y="1195"/><text x="420" y="1181">participants</text></g>
<g id="n-c21" class="c"><use href="#v" x="428" y="1207"/><text x="404" y="1186">organization of the european union contest</text></g>
<g id="n-c22" class="c"><use href="#v" transform="translate(458,1220) scale(1.3)"/><text x="420" y="1197">core initiatives of the european commission</text></g>
<g id="n-c23" class="c"><use href="#v" transform="translate(470,1200) scale(.8)"/><text x="478" y="1204">science and technology</text></g>
<g id="n-c24" class="c"><use href="#v" x="440" y="1225"/><text x="446" y="1209">others with similar interests</text></g>
<g id="n-c25" class="c"><use href="#v" x="450" y="1230"/><text x="430" y="1216">best projects</text></g>
<g id="n-c26" class="c"><use href="#v" transform="translate(433,1240) scale(1.5)"/><text x="439" y="1225">long-term goals of the european research area</text></g>
<g id="n-c27" class="c"><use href="#v" x="453" y="1250"/><text x="458" y="1233">implementation of a well-defined communication strategy</text></g>
<g id="n-c28" class="c"><use href="#v" x="430" y="1245"/><text x="470" y="1244">communication plan</text></g>
<g id="n-c29" class="c"><use href="#v" transform="translate(445,1262) scale(2)"/><text x="433" y="1255">young scientists</text></g>
<g id="n-c30" class="c"><use href="#v" x="460" y="1270"/><text x="453" y="1265">local students</text></g>
<g id="n-c31" class="c"><use href="#v" transform="translate(455,1280) scale(.8)"/><text x="445" y="1278">european union contest for young scientists</text></g>
<g id="n-c32" class="c"><use href="#v" transform="translate(465,1285) scale(.8)"/><text x="461" y="1288">attractiveness for young talents</text></g>
</svg>
